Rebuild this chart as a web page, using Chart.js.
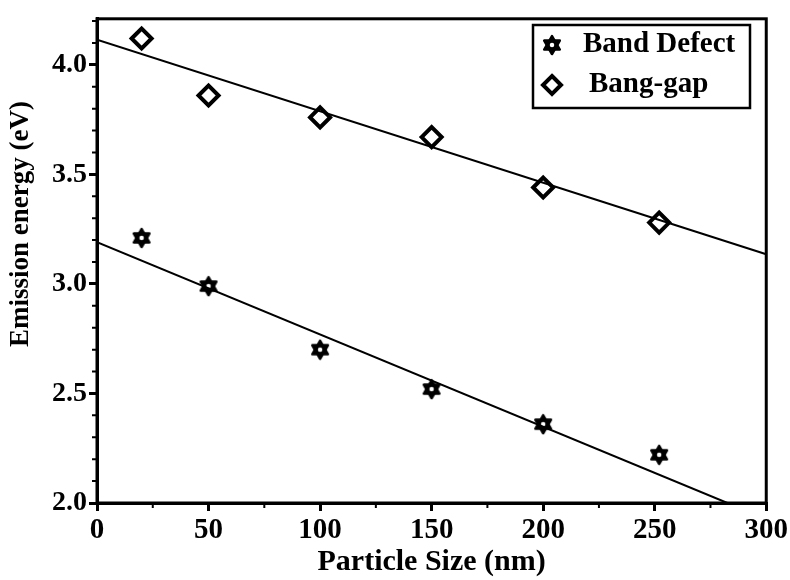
<!DOCTYPE html>
<html>
<head>
<meta charset="utf-8">
<script src="https://cdn.jsdelivr.net/npm/chart.js@4"></script>
<style>
  body { margin: 0; background: #fff; }
  #wrap { width: 790px; height: 580px; }
</style>
</head>
<body>
<div id="wrap"><canvas id="chart" width="790" height="580"></canvas></div>
<script>
// Data
const sizes = [20, 50, 100, 150, 200, 252];
const bandDefect = [3.21, 2.99, 2.70, 2.52, 2.36, 2.22];
const bandGap = [4.12, 3.86, 3.76, 3.67, 3.44, 3.28];

// Linear fit end points
const defectFitX = [0, 282.6];
const defectFitY = [3.19, 2.0];
const gapFitX = [0, 300];
const gapFitY = [4.115, 3.135];

const FONT = '"Liberation Serif", "Times New Roman", serif';

// Star of David marker, solid with a small hollow centre
function makeHexagram(size) {
  const c = document.createElement('canvas');
  c.width = size; c.height = size;
  const ctx = c.getContext('2d');
  const cx = size / 2, cy = size / 2, r = size / 2 - 2;
  ctx.fillStyle = '#000';
  ctx.strokeStyle = '#000';
  ctx.lineWidth = 2.5;
  ctx.lineJoin = 'round';
  for (let t = 0; t < 2; t++) {
    ctx.beginPath();
    for (let i = 0; i < 3; i++) {
      const a = -Math.PI / 2 + t * Math.PI + i * 2 * Math.PI / 3;
      const px = cx + r * Math.cos(a), py = cy + r * Math.sin(a);
      i === 0 ? ctx.moveTo(px, py) : ctx.lineTo(px, py);
    }
    ctx.closePath();
    ctx.fill();
    ctx.stroke();
  }
  ctx.fillStyle = '#fff';
  ctx.beginPath();
  ctx.arc(cx, cy, r * 0.25, 0, Math.PI * 2);
  ctx.fill();
  return c;
}
const hexagram = makeHexagram(22);

function toPoints(xs, ys) {
  return xs.map((x, i) => ({ x: x, y: ys[i] }));
}

// Frame, minor ticks, y title and boxed legend
const framePlugin = {
  id: 'frame',
  afterDraw(chart) {
    const { ctx, chartArea: a, scales } = chart;
    ctx.save();
    ctx.strokeStyle = '#000';
    ctx.lineWidth = 3;
    ctx.strokeRect(a.left, a.top, a.right - a.left, a.bottom - a.top);

    ctx.lineWidth = 2;
    ctx.beginPath();
    for (let v = 25; v < 300; v += 50) {
      const px = scales.x.getPixelForValue(v);
      ctx.moveTo(px, a.bottom);
      ctx.lineTo(px, a.bottom + 5);
    }
    for (let k = 21; k <= 42; k++) {
      if (k % 5 === 0) continue;
      const py = scales.y.getPixelForValue(k / 10);
      if (py < a.top) continue;
      ctx.moveTo(a.left, py);
      ctx.lineTo(a.left - 5, py);
    }
    ctx.stroke();

    // y axis title, sits a bit above the middle as in the original
    ctx.fillStyle = '#000';
    ctx.save();
    ctx.translate(21, 224);
    ctx.rotate(-Math.PI / 2);
    ctx.font = 'bold 27px ' + FONT;
    ctx.textAlign = 'center';
    ctx.textBaseline = 'middle';
    ctx.fillText('Emission energy (eV)', 0, 0);
    ctx.restore();

    // legend box
    const bx = 533, by = 25, bw = 217, bh = 83;
    ctx.fillStyle = '#fff';
    ctx.fillRect(bx, by, bw, bh);
    ctx.lineWidth = 2.5;
    ctx.strokeRect(bx, by, bw, bh);
    ctx.drawImage(hexagram, 552 - 11, 45 - 11);
    ctx.lineWidth = 4;
    ctx.beginPath();
    ctx.moveTo(552, 76); ctx.lineTo(561, 85); ctx.lineTo(552, 94); ctx.lineTo(543, 85);
    ctx.closePath();
    ctx.stroke();
    ctx.fillStyle = '#000';
    ctx.font = 'bold 29px ' + FONT;
    ctx.textBaseline = 'middle';
    ctx.fillText('Band Defect', 583, 45);
    ctx.fillText('Bang-gap', 589, 85);
    ctx.restore();
  }
};

new Chart(document.getElementById('chart'), {
  type: 'scatter',
  data: {
    datasets: [
      {
        label: 'Band Defect fit',
        type: 'line',
        data: toPoints(defectFitX, defectFitY),
        borderColor: '#000',
        borderWidth: 2,
        pointRadius: 0,
        fill: false
      },
      {
        label: 'Bang-gap fit',
        type: 'line',
        data: toPoints(gapFitX, gapFitY),
        borderColor: '#000',
        borderWidth: 2,
        pointRadius: 0,
        fill: false
      },
      {
        label: 'Band Defect',
        data: toPoints(sizes, bandDefect),
        pointStyle: hexagram,
        pointRadius: 11
      },
      {
        label: 'Bang-gap',
        data: toPoints(sizes, bandGap),
        pointStyle: 'rectRot',
        pointRadius: 10,
        backgroundColor: '#fff',
        borderColor: '#000',
        borderWidth: 4
      }
    ]
  },
  options: {
    responsive: false,
    animation: false,
    layout: { padding: { top: 15, right: 23, left: 0, bottom: 0 } },
    plugins: {
      legend: { display: false },
      tooltip: { enabled: false }
    },
    scales: {
      x: {
        type: 'linear',
        min: 0,
        max: 300,
        afterFit(scale) { scale.height = 77; },
        ticks: {
          stepSize: 50,
          color: '#000',
          padding: 2,
          font: { family: FONT, size: 29, weight: 'bold' }
        },
        grid: {
          drawOnChartArea: false,
          color: '#000',
          lineWidth: 3,
          tickLength: 8
        },
        border: { color: '#000', width: 3 },
        title: {
          display: true,
          text: 'Particle Size (nm)',
          color: '#000',
          padding: 0,
          font: { family: FONT, size: 30, weight: 'bold' }
        }
      },
      y: {
        type: 'linear',
        min: 2.0,
        max: 4.21,
        afterFit(scale) { scale.width = 97; },
        afterBuildTicks(scale) {
          scale.ticks = [2.0, 2.5, 3.0, 3.5, 4.0].map(v => ({ value: v }));
        },
        ticks: {
          color: '#000',
          padding: 2,
          callback: v => v.toFixed(1),
          font: { family: FONT, size: 28, weight: 'bold' }
        },
        grid: {
          drawOnChartArea: false,
          color: '#000',
          lineWidth: 3,
          tickLength: 8
        },
        border: { color: '#000', width: 3 },
        title: { display: false }
      }
    }
  },
  plugins: [framePlugin]
});
</script>
</body>
</html>
